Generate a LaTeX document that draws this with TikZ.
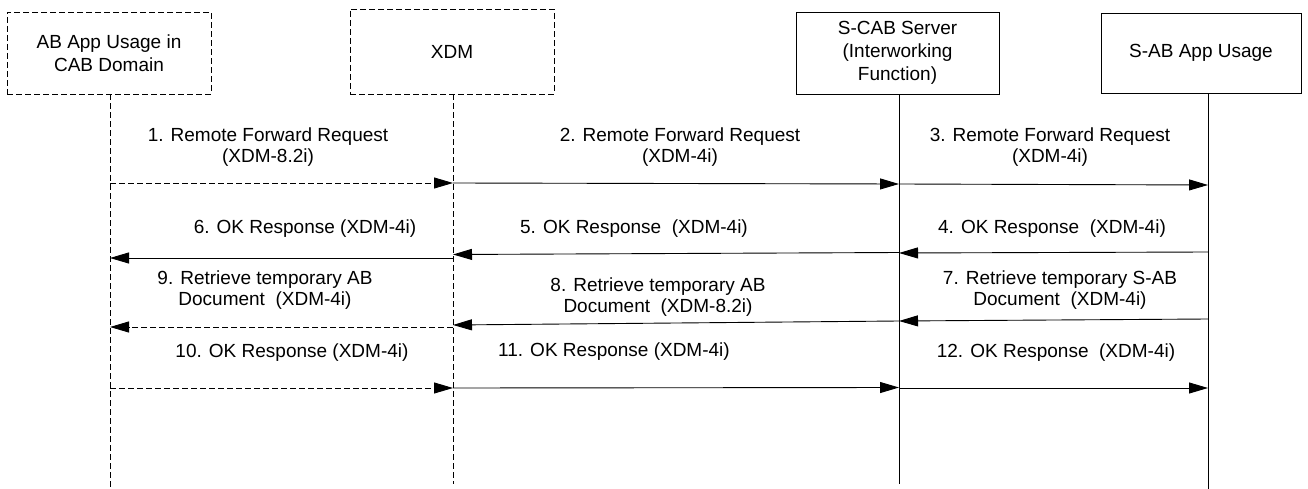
\documentclass[tikz,border=0pt]{standalone}
\usepackage{fontspec}
\setmainfont{Liberation Sans}
\usetikzlibrary{arrows.meta}
\begin{document}
\begin{tikzpicture}[x=1pt,y=-1pt,
  every node/.style={font=\fontsize{19}{21}\selectfont},
  ent/.style={draw, line width=0.9pt, align=center, inner sep=0pt,
    font=\fontsize{19}{23}\selectfont},
  dent/.style={ent, dash pattern=on 6pt off 3pt},
  life/.style={line width=0.9pt},
  dlife/.style={life, dash pattern=on 6pt off 3pt},
  msg/.style={line width=0.9pt, -{Triangle[length=19pt,width=11pt]}},
  dmsg/.style={msg, dash pattern=on 6pt off 3pt},
  lbl/.style={align=center, inner sep=0pt}]
\useasboundingbox (0,0) rectangle (1308,489);

% entities
\node[dent, minimum width=204pt, minimum height=82pt] (b1) at (109,53) {AB App Usage in\\CAB Domain};
\node[dent, minimum width=204pt, minimum height=85pt] (b2) at (452,51.5) {XDM};
\node[ent, minimum width=203pt, minimum height=82pt] (b3) at (897.5,53) {S-CAB Server\\(Interworking\\Function)};
\node[ent, minimum width=200pt, minimum height=80pt] (b4) at (1201,53) {S-AB App Usage};

% lifeline ends
\coordinate (e1) at (110,489);
\coordinate (e2) at (453,484);
\coordinate (e3) at (899,484);
\coordinate (e4) at (1208,489);
\draw[dlife] (b1.south -| e1) -- (e1);
\draw[dlife] (b2.south -| e2) -- (e2);
\draw[life] (b3.south -| e3) -- (e3);
\draw[life] (b4.south -| e4) -- (e4);

% message points
\coordinate (a1) at (110,183);  \coordinate (a2) at (453,183);
\coordinate (a3) at (899,184);  \coordinate (a4) at (1208,185);
\coordinate (r4) at (1208,252); \coordinate (r3) at (899,253);
\coordinate (r3b) at (899,252.5); \coordinate (r2) at (453,254.5);
\coordinate (s2) at (453,258);  \coordinate (s1) at (110,258);
\coordinate (u4) at (1208,319); \coordinate (u3) at (899,321);
\coordinate (u2) at (453,325);  \coordinate (v2) at (453,327);
\coordinate (v1) at (110,327);
\coordinate (w1) at (110,388);  \coordinate (w2) at (453,388);
\coordinate (w3) at (899,387.5); \coordinate (w3b) at (899,388);
\coordinate (w4) at (1208,388);

\draw[dmsg] (a1) -- (a2);
\draw[msg] (a2) -- (a3);
\draw[msg] (a3) -- (a4);
\draw[msg] (r4) -- (r3);
\draw[msg] (r3b) -- (r2);
\draw[msg] (s2) -- (s1);
\draw[msg] (u4) -- (u3);
\draw[msg] (u3) -- (u2);
\draw[dmsg] (v2) -- (v1);
\draw[dmsg] (w1) -- (w2);
\draw[msg] (w2) -- (w3);
\draw[msg] (w3b) -- (w4);

% labels
\node[lbl] (t1) at (268,147.5) {1. Remote Forward Request\\(XDM-8.2i)};
\node[lbl] (t2) at (680,147.5) {2. Remote Forward Request\\(XDM-4i)};
\node[lbl] (t3) at (1050,147.5) {3. Remote Forward Request\\(XDM-4i)};
\node[lbl] (t4) at (1052,229) {4. OK Response\ \ (XDM-4i)};
\node[lbl] (t5) at (634,229) {5. OK Response\ \ (XDM-4i)};
\node[lbl] (t6) at (305,229) {6. OK Response (XDM-4i)};
\node[lbl] (t7) at (1060,290) {7. Retrieve temporary S-AB\\Document\ \ (XDM-4i)};
\node[lbl] (t8) at (658,297) {8. Retrieve temporary AB\\Document\ \ (XDM-8.2i)};
\node[lbl] (t9) at (265,290) {9. Retrieve temporary AB\\Document\ \ (XDM-4i)};
\node[lbl] (t10) at (292,353) {10. OK Response (XDM-4i)};
\node[lbl] (t11) at (614,352) {11. OK Response (XDM-4i)};
\node[lbl] (t12) at (1056,353) {12. OK Response\ \ (XDM-4i)};
\end{tikzpicture}
\end{document}
